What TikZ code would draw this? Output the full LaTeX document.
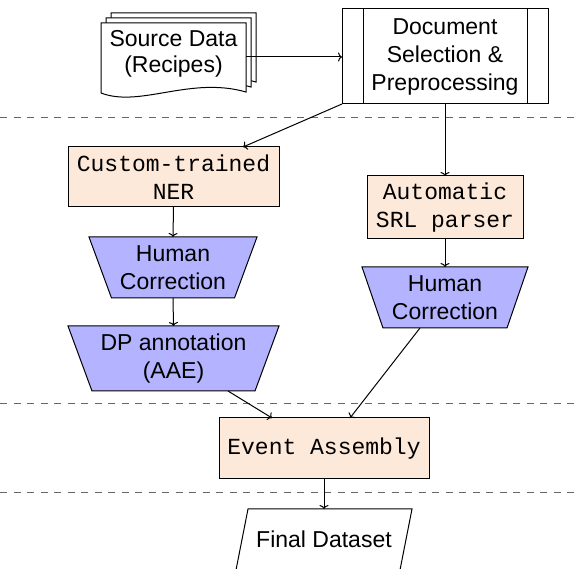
\documentclass[tikz,border=0pt]{standalone}
\usepackage{fontspec}
\newfontfamily\sfx{Liberation Sans}
\newfontfamily\ttx{Liberation Mono}
\usetikzlibrary{arrows.meta,backgrounds,calc}
\definecolor{peach}{RGB}{253,233,217}
\definecolor{lav}{RGB}{179,179,255}
\begin{document}
\begin{tikzpicture}[x=1pt,y=-1pt, line width=1pt,
  every node/.style={inner sep=0pt, outer sep=0pt},
  sf/.style={font=\sfx\fontsize{23}{28}\selectfont, align=center},
  tt/.style={font=\ttx\fontsize{23}{28}\selectfont, align=center},
  codebox/.style={tt, draw, fill=peach},
  arr/.style={-{To[length=4pt,width=9pt]}},
  sep/.style={black!60, line width=1pt, dash pattern=on 7pt off 6.5pt},
  outline/.style={draw, line width=1pt},
  trap/.style={outline, fill=lav}]
\useasboundingbox (0,0) rectangle (579,569);

% nodes
\node[sf, font=\sfx\fontsize{23}{26}\selectfont, minimum width=145pt, minimum height=62pt] (src) at (173.5,54) {Source Data\\(Recipes)};
\node[sf, draw, minimum width=206pt, minimum height=95pt] (doc) at (445,56.5) {Document\\Selection \&\\Preprocessing};
\draw ([xshift=21pt]doc.north west) -- ([xshift=21pt]doc.south west);
\draw ([xshift=-21pt]doc.north east) -- ([xshift=-21pt]doc.south east);
\node[codebox, minimum width=211pt, minimum height=60pt] (ner) at (173.5,177) {Custom-trained\\NER};
\node[codebox, minimum width=156pt, minimum height=63pt] (srl) at (445,207.5) {Automatic\\SRL parser};
\node[sf, minimum width=168pt, minimum height=61pt] (hc1) at (173,267.5) {Human\\Correction};
\node[sf, minimum width=166pt, minimum height=61pt] (hc2) at (445,297.5) {Human\\Correction};
\node[sf, minimum width=211pt, minimum height=65pt] (dp) at (173.5,358.5) {DP annotation\\(AAE)};
\node[codebox, minimum width=210pt, minimum height=61pt] (ev) at (324,448.5) {Event Assembly};
\node[sf, minimum width=176pt, minimum height=61pt] (fin) at (324,539.5) {Final Dataset};

% shapes behind the texts
\begin{scope}[on background layer]
\fill[white] (0,0) rectangle (579,569);
\foreach \d in {10,5,0}{
  \path[outline, fill=white] ($(src.north west)+(\d,-\d)$) -- ($(src.north east)+(\d,-\d)$)
    -- ($(src.south east)+(\d,7-\d)$)
    .. controls ($(src.south east)+(\d-56,-9-\d)$) and ($(src.south west)+(\d+39,23-\d)$)
    .. ($(src.south west)+(\d,8-\d)$) -- cycle;
}
\path[trap] (hc1.north west) -- (hc1.north east) -- ($(hc1.south east)+(-22.5,0)$) -- ($(hc1.south west)+(22.5,0)$) -- cycle;
\path[trap] (hc2.north west) -- (hc2.north east) -- ($(hc2.south east)+(-21,0)$) -- ($(hc2.south west)+(21,0)$) -- cycle;
\path[trap] (dp.north west) -- (dp.north east) -- ($(dp.south east)+(-24,0)$) -- ($(dp.south west)+(24,0)$) -- cycle;
\path[outline] ($(fin.north west)+(12,0)$) -- (fin.north east) -- ($(fin.south east)+(-12,0)$) -- (fin.south west) -- cycle;
\end{scope}

% separators
\draw[sep] (0,118) -- (579,118);
\draw[sep] (0,404) -- (579,404);
\draw[sep] (0,493) -- (579,493);

% connectors
\draw[arr] ([yshift=-3pt]src.east) -- ([yshift=-0.5pt]doc.west);
\draw[arr] (doc.south west) -- ([xshift=-36pt]ner.north east);
\draw[arr] (doc.south) -- (srl.north);
\draw[arr] (ner.south) -- (hc1.north);
\draw[arr] (hc1.south) -- (dp.north);
\draw[arr] (srl.south) -- (hc2.north);
\draw[arr] ([xshift=54.5pt]dp.south) -- ([xshift=-52pt]ev.north);
\draw[arr] ([xshift=-25pt]hc2.south) -- ([xshift=26pt]ev.north);
\draw[arr] (ev.south) -- (fin.north);
\end{tikzpicture}
\end{document}
